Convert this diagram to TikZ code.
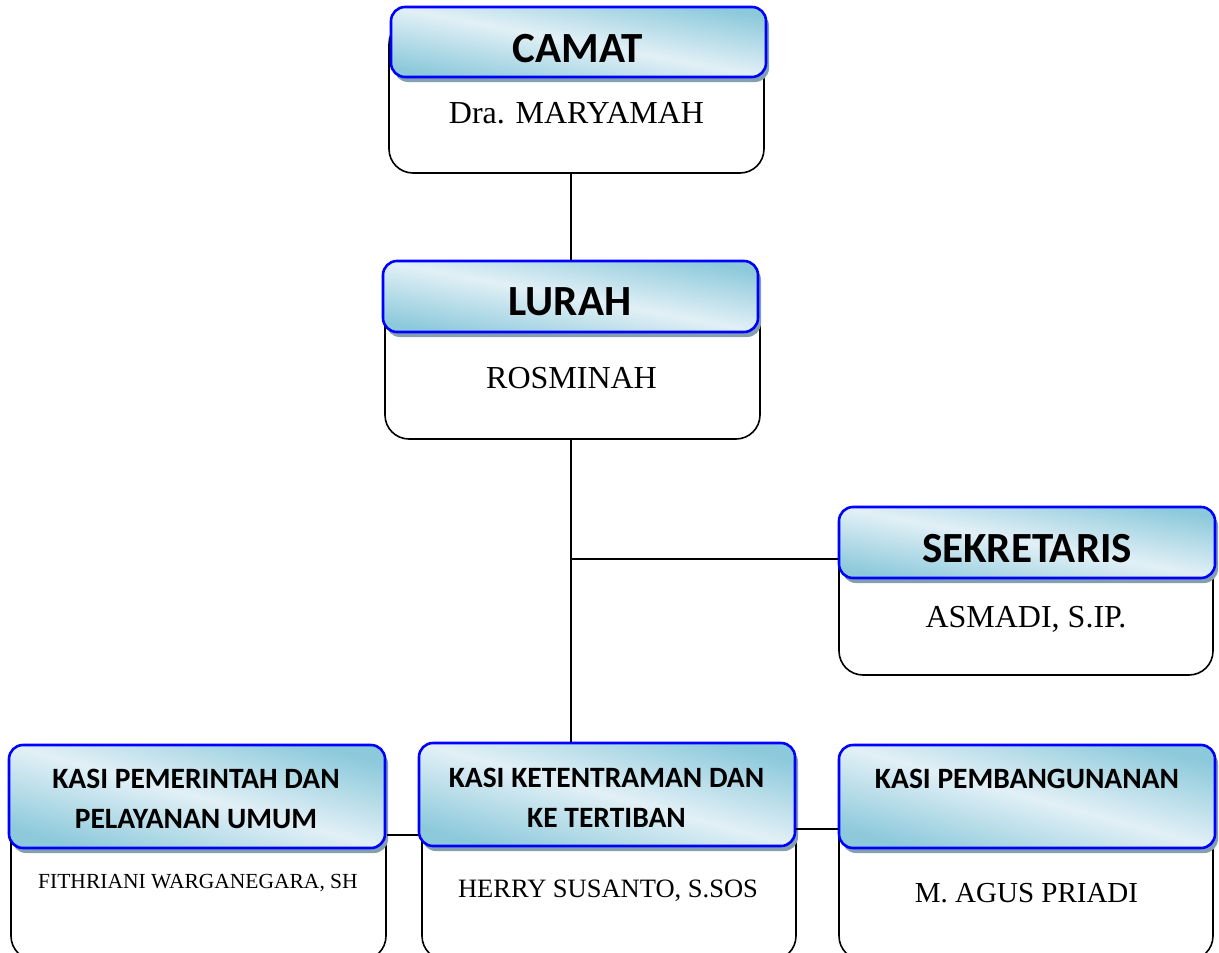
\documentclass[tikz,border=0pt]{standalone}
\usepackage{fontspec}
\setmainfont{Liberation Serif}
\newfontfamily\headfont{Carlito}
\usetikzlibrary{shadows}
\definecolor{hdark}{RGB}{140,201,219}
\definecolor{hlight}{RGB}{226,240,246}
\definecolor{hshadow}{RGB}{132,160,175}
\definecolor{hblue}{RGB}{0,0,255}

\begin{document}
\begin{tikzpicture}[x=1pt,y=-1pt,
	outerbox/.style={draw=black,line width=1.6pt,rounded corners=24pt,fill=white,inner sep=0pt},
	headbox/.style={draw=hblue,line width=2.6pt,rounded corners=14pt,inner sep=0pt,
		left color=hdark,right color=hdark,middle color=hlight,shading angle=-10.6,
		drop shadow={shadow xshift=3pt,shadow yshift=-5pt,fill=hshadow,opacity=1}},
	kasibox/.style={headbox,shading angle=-15.3,minimum width=376pt,minimum height=103pt},
	bigtitle/.style={anchor=base,font=\headfont\bfseries\fontsize{43}{43}\selectfont},
	smalltitle/.style={anchor=base,align=center,font=\headfont\bfseries\fontsize{29.5}{40}\selectfont},
	bigname/.style={anchor=base,font=\fontsize{32}{32}\selectfont},
	link/.style={draw=black,line width=1.6pt}]
		\useasboundingbox (0,0) rectangle (1219,953);

		% camat
		\node[outerbox,minimum width=375pt,minimum height=153pt] (camatbox) at (576.5,96.5) {};
		\node[headbox,minimum width=375pt,minimum height=70pt] (camat) at (578.5,42) {};
		\node[bigtitle] (camattxt) at (578,62) {CAMAT};
		\node[bigname] (camatname) at (576.5,123) {Dra. MARYAMAH};

		% lurah
		\node[outerbox,minimum width=375pt,minimum height=154pt] (lurahbox) at (572.5,362) {};
		\node[headbox,minimum width=375pt,minimum height=71pt] (lurah) at (570.5,296.5) {};
		\node[bigtitle] (lurahtxt) at (570,315) {LURAH};
		\node[bigname] (lurahname) at (571.5,388) {ROSMINAH};

		% sekretaris
		\node[outerbox,minimum width=374pt,minimum height=155pt] (sekbox) at (1026,597.5) {};
		\node[headbox,minimum width=376pt,minimum height=71pt] (sekretaris) at (1027,542.5) {};
		\node[bigtitle] (sektxt) at (1027,562) {SEKRETARIS};
		\node[bigname] (sekname) at (1026,627) {ASMADI, S.IP.};

		% kasi
		\node[outerbox,minimum width=375pt,minimum height=200pt] (pembox) at (198.5,860) {};
		\node[kasibox] (kasipem) at (197,796.5) {};
		\node[smalltitle] (pemtxt) at (196,828) {KASI PEMERINTAH DAN\\PELAYANAN UMUM};
		\node[anchor=base,font=\fontsize{21.5}{21.5}\selectfont] (pemname) at (198,888) {FITHRIANI WARGANEGARA, SH};

		\node[outerbox,minimum width=374pt,minimum height=200pt] (tibbox) at (609,860) {};
		\node[kasibox] (kasitib) at (607,794.5) {};
		\node[smalltitle] (tibtxt) at (606.5,827) {KASI KETENTRAMAN DAN\\KE TERTIBAN};
		\node[anchor=base,font=\fontsize{26.5}{26.5}\selectfont] (tibname) at (608,897) {HERRY SUSANTO, S.SOS};

		\node[outerbox,minimum width=374pt,minimum height=200pt] (bangbox) at (1026,860) {};
		\node[kasibox] (kasibang) at (1027,796.5) {};
		\node[smalltitle] (bangtxt) at (1027,788) {KASI PEMBANGUNANAN};
		\node[anchor=base,font=\fontsize{29}{29}\selectfont] (bangname) at (1026.5,902) {M. AGUS PRIADI};

		% lines
		\coordinate (branch) at (571,559);
		\coordinate (linka) at (0,835);
		\coordinate (linkb) at (0,829);
		\draw[link] (camatbox.south -| branch) -- (lurah.north -| branch);
		\draw[link] (lurahbox.south -| branch) -- (branch) -- (kasitib.north -| branch);
		\draw[link] (branch) -- (sekretaris.west |- branch);
		\draw[link] (pembox.east |- linka) -- (kasitib.west |- linka);
		\draw[link] (kasitib.east |- linkb) -- (kasibang.west |- linkb);
	\end{tikzpicture}
\end{document}
